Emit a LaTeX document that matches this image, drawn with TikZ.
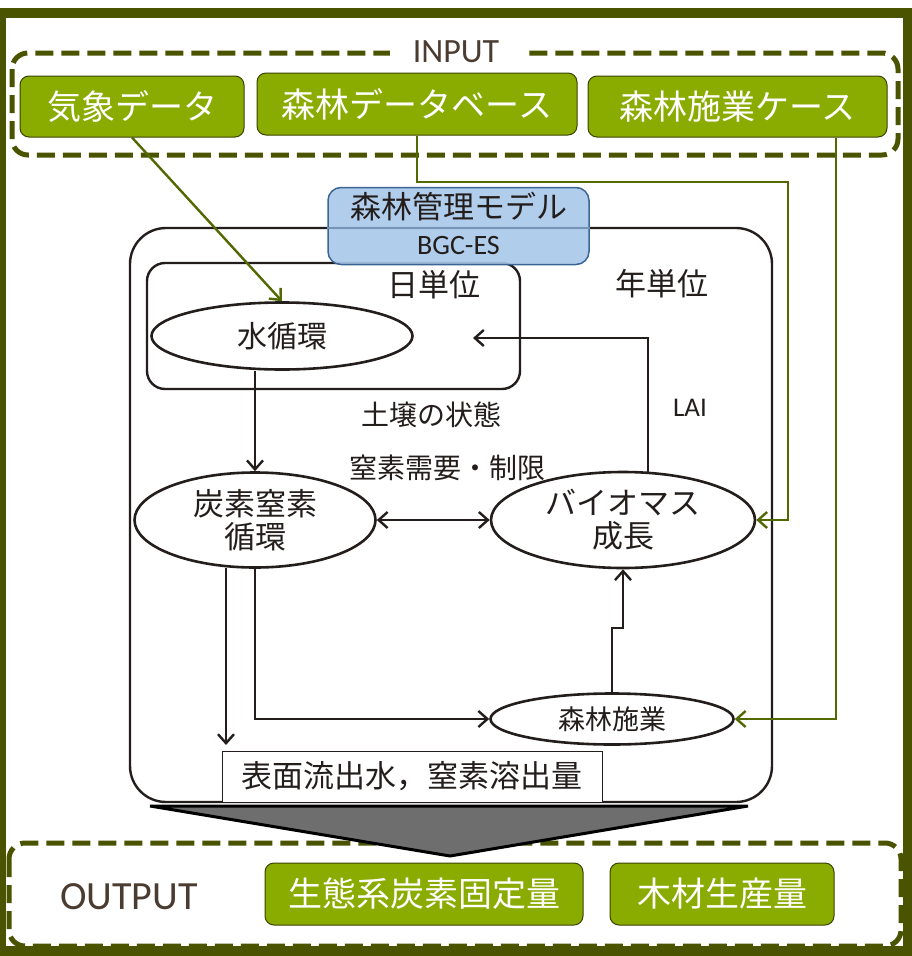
\documentclass[tikz,border=0pt]{standalone}
\usepackage{fontspec}
\setmainfont{Noto Sans CJK JP}
\newfontfamily\lat{Carlito}
\usetikzlibrary{arrows.meta,shapes.geometric,calc}
\definecolor{olive}{RGB}{74,84,0}
\definecolor{gfill}{RGB}{138,171,0}
\definecolor{garrow}{RGB}{82,104,0}
\definecolor{bfill}{RGB}{169,200,234}
\definecolor{bdraw}{RGB}{58,101,149}
\definecolor{ink}{RGB}{35,30,28}
\definecolor{brownt}{RGB}{74,60,48}
\tikzset{
  fs/.style={font=\fontsize{#1}{#1}\selectfont},
  gbox/.style={draw=olive!80!black,line width=1pt,fill=gfill,rounded corners=9pt,text=white,inner sep=0pt},
  dbox/.style={draw=olive,line width=5pt,dash pattern=on 18pt off 8pt,rounded corners=16pt},
  ell/.style={ellipse,draw=ink,line width=2.6pt,fill=white,inner sep=0pt,text=ink,align=center},
  tip/.tip={Straight Barb[length=9pt,width=16pt,line width=2.4pt]},
  conn/.style={draw=ink,line width=2.4pt,-tip},
  gconn/.style={draw=garrow,line width=2.4pt,-tip},
  lbl/.style={text=ink,inner sep=0pt}
}
\begin{document}
\begin{tikzpicture}[x=1pt,y=-1pt]
\useasboundingbox (0,0) rectangle (912,956);
\begin{scope}
\clip (0,0) rectangle (912,956);
\fill[white] (0,0) rectangle (912,956);
\draw[olive,line width=10pt] (1,13) rectangle (908,951);
\end{scope}
% INPUT
\draw[dbox] (12,53) rectangle (898,155);
\node[fill=white,inner sep=0pt,minimum width=132pt,minimum height=14pt,text=brownt,fs=34] (inlbl) at (456,52) {\lat INPUT};
\node[gbox,minimum width=224pt,minimum height=61pt,fs=34] (kisho) at (132,106.5) {気象データ};
\node[gbox,minimum width=320pt,minimum height=62pt,fs=34] (db) at (417,104) {森林データベース};
\node[gbox,minimum width=299pt,minimum height=61pt,fs=34] (case) at (737.5,106.5) {森林施業ケース};
% model box
\draw[ink,line width=2.4pt,rounded corners=36pt] (130,228) rectangle (772,802);
\node[lbl,fs=31] (nen) at (662,284) {年単位};
% day box
\draw[ink,line width=2.4pt,rounded corners=18pt] (147,263) rectangle (520,389);
\node[lbl,fs=31] (nichi) at (434,285) {日単位};
% blue box
\node[draw=bdraw,line width=1.5pt,fill=bfill,fill opacity=0.9,text opacity=1,rounded corners=13pt,minimum width=261pt,minimum height=77pt,inner sep=0pt] (bgc) at (458.5,226) {};
\draw[bdraw!70,line width=1.5pt] (bgc.west |- 0,228) -- (bgc.east |- 0,228);
\node[lbl,fs=31] (bgct) at (458.5,207) {森林管理モデル};
\node[lbl,fs=28] (bgcs) at (458.5,246) {\lat BGC-ES};
% ellipses
\node[ell,minimum width=261pt,minimum height=67pt,fs=30] (water) at (282,336) {水循環};
\node[ell,minimum width=241pt,minimum height=95pt,fs=31] (cn) at (255,520) {炭素窒素\\[2pt]循環};
\node[ell,minimum width=264pt,minimum height=96pt,fs=31] (bio) at (623,520) {バイオマス\\[2pt]成長};
\node[ell,minimum width=243pt,minimum height=51pt,fs=27] (sg) at (612,719) {森林施業};
% labels
\node[lbl,fs=28] (soil) at (431,415) {土壌の状態};
\node[lbl,fs=28] (nreq) at (447,468) {窒素需要・制限};
\node[lbl,fs=27] (lai) at (690,408) {\lat LAI};
% output text box
\node[draw=ink,line width=1pt,fill=white,minimum width=380pt,minimum height=51pt,inner sep=0pt,text=ink,fs=31] (runoff) at (412,776.5) {表面流出水，窒素溶出量};
% coordinates
\coordinate (laitip) at (473,338);
\coordinate (laicorner) at (648,338);
\coordinate (step) at (0,628);
\coordinate (g1) at (788,182);
\coordinate (outtip) at (226,745);
% connectors
\draw[gconn] (kisho.south) -- (water.north);
\draw[gconn] (db.south) |- (g1) |- (bio.east);
\draw[gconn] ([xshift=98.5pt]case.south) |- (sg.east);
\draw[conn] (cn.north |- water.south) -- (cn.north);
\draw[conn] ([xshift=25pt,yshift=-1pt]bio.north) -- (laicorner) -- (laitip);
\draw[draw=ink,line width=2.4pt,tip-tip] (cn.east) -- (bio.west);
\draw[conn] (cn.south) |- (sg.west);
\draw[conn] ([xshift=-29pt,yshift=1pt]cn.south) -- (outtip);
\draw[conn] (sg.north) -- (sg.north |- step) -- (bio.south |- step) -- (bio.south);
% OUTPUT
\draw[dbox] (9,843) rectangle (901,946);
\node[lbl,text=brownt,fs=40] (outlbl) at (129,897) {\lat OUTPUT};
\draw[black,line width=3pt,fill=black!57,line join=miter] (150,806) -- (748,806) -- (450,856) -- cycle;
\node[gbox,minimum width=318pt,minimum height=62pt,fs=34] (eco) at (424,894) {生態系炭素固定量};
\node[gbox,minimum width=224pt,minimum height=62pt,fs=34] (wood) at (722,894) {木材生産量};
\end{tikzpicture}
\end{document}
